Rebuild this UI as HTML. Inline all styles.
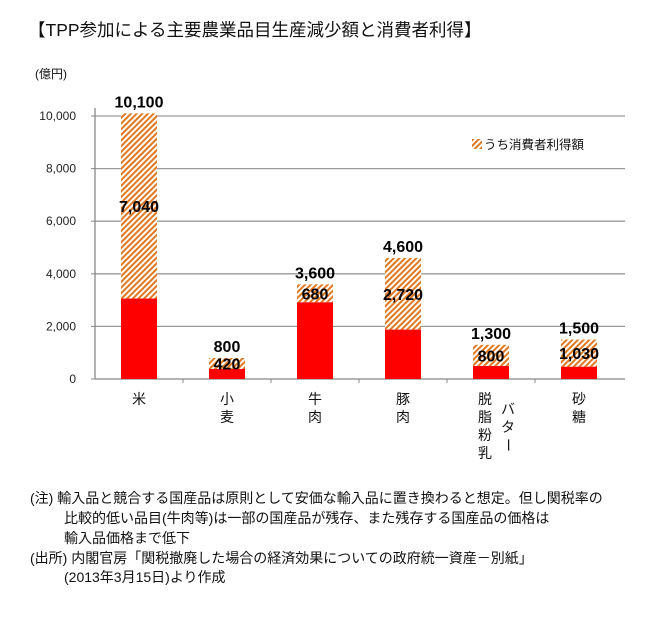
<!DOCTYPE html>
<html><head><meta charset="utf-8">
<style>
html,body{margin:0;padding:0;background:#fff;}
body{width:670px;height:617px;overflow:hidden;font-family:"Liberation Sans","Noto Sans CJK JP",sans-serif;}
svg text{font-family:"Liberation Sans","Noto Sans CJK JP",sans-serif;}
</style></head>
<body>
<svg id="chart" width="670" height="617" xmlns="http://www.w3.org/2000/svg">
<defs>
<pattern id="hatch" patternUnits="userSpaceOnUse" width="4" height="4" patternTransform="rotate(45)">
<rect width="4" height="4" fill="#fff"/>
<rect width="2" height="4" fill="#E07820"/>
</pattern>
</defs>
<text x="28" y="36" font-size="17.5" fill="#111">【TPP参加による主要農業品目生産減少額と消費者利得】</text>
<text x="35" y="78" font-size="12" fill="#111">(億円)</text>
<g id="grid"></g>
<g id="bars"></g>
<g id="labels"></g>
<g>
<rect x="472" y="139" width="10" height="10" fill="url(#hatch)"/>
<text x="484" y="149" font-size="12.5" fill="#111">うち消費者利得額</text>
</g>
<g font-size="14" fill="#111">
<text x="30" y="503">(注) 輸入品と競合する国産品は原則として安価な輸入品に置き換わると想定。但し関税率の</text>
<text x="64" y="523">比較的低い品目(牛肉等)は一部の国産品が残存、また残存する国産品の価格は</text>
<text x="64" y="543">輸入品価格まで低下</text>
<text x="30" y="563">(出所) 内閣官房「関税撤廃した場合の経済効果についての政府統一資産－別紙」</text>
<text x="64" y="582">(2013年3月15日)より作成</text>
</g>
</svg>
<script>
const categories = [["米"],["小","麦"],["牛","肉"],["豚","肉"],["脱","脂","粉","乳"],["砂","糖"]];
const totals = [10100, 800, 3600, 4600, 1300, 1500];
const consumer = [7040, 420, 680, 2720, 800, 1030];
const yTicks = [0, 2000, 4000, 6000, 8000, 10000];
const yTickLabels = ["0","2,000","4,000","6,000","8,000","10,000"];

const NS = "http://www.w3.org/2000/svg";
const left = 95, right = 623, y0 = 379, yTop = 116, vMax = 10000;
const bw = (right - left) / categories.length;
const barW = 36;
function yScale(v){ return y0 - (v / vMax) * (y0 - yTop); }
function xCenter(i){ return left + bw * (i + 0.5); }
function mk(tag, attrs, parent){ const e = document.createElementNS(NS, tag); for (const k in attrs) e.setAttribute(k, attrs[k]); parent.appendChild(e); return e; }
function fmt(v){ return v.toLocaleString("en-US"); }

const grid = document.getElementById("grid");
yTicks.forEach((t, i) => {
  const y = yScale(t);
  const ln = mk("line", {x1: left, x2: right + 2, y1: y, y2: y, stroke: t === 0 ? "#888" : "#999", "stroke-width": 1.3}, grid);
  
  
  const tx = mk("text", {x: 76, y: y + 4, "font-size": 12, "text-anchor": "end", fill: "#222"}, grid);
  tx.textContent = yTickLabels[i];
  
  
  const tk = mk("line", {x1: left - 4, x2: left, y1: y, y2: y, stroke: "#888"}, grid);
  
  
});
const ax = mk("line", {x1: left, x2: left, y1: yTop - 8, y2: y0, stroke: "#888", "stroke-width": 1.3}, grid);


for (let i = 1; i < categories.length; i++) {
  const x = left + bw * i;
  const tk = mk("line", {x1: x, x2: x, y1: y0, y2: y0 + 4, stroke: "#888"}, grid);
  
  
}

const bars = document.getElementById("bars");
const labels = document.getElementById("labels");
categories.forEach((cat, i) => {
  const cx = xCenter(i);
  const red = totals[i] - consumer[i];
  const yRed = yScale(red), yTot = yScale(totals[i]);
  const r = mk("rect", {x: cx - barW/2, y: yRed, width: barW, height: y0 - yRed, fill: "#FF0000"}, bars);
  
  
  const h = mk("rect", {x: cx - barW/2, y: yTot, width: barW, height: yRed - yTot, fill: "url(#hatch)"}, bars);
  
  
  const tl = mk("text", {x: cx, y: yTot - 6, "font-size": 16, "font-weight": "bold", "text-anchor": "middle", fill: "#000"}, labels);
  tl.textContent = fmt(totals[i]);
  
  
  const cl = mk("text", {x: cx, y: (yTot + yRed) / 2 + 6, "font-size": 16, "font-weight": "bold", "text-anchor": "middle", fill: "#000"}, labels);
  cl.textContent = fmt(consumer[i]);
  
  
  const colX = cat.length > 2 ? cx - 6 : cx;
  cat.forEach((ch, j) => {
    const t = mk("text", {x: colX, y: 404 + j * 18, "font-size": 14, "text-anchor": "middle", fill: "#111"}, labels);
    t.textContent = ch;
    
    
  });
  if (cat.length > 2) {
    ["バ","タ","ー"].forEach((ch, j) => {
      const t = mk("text", {x: cx + 17, y: 414 + j * 18, "font-size": 14, "text-anchor": "middle", fill: "#111", transform: ch === "ー" ? `rotate(90 ${cx+17} ${414 + j*18 - 5})` : ""}, labels);
      t.textContent = ch;
      
      
    });
  }
});
</script>
</body></html>
